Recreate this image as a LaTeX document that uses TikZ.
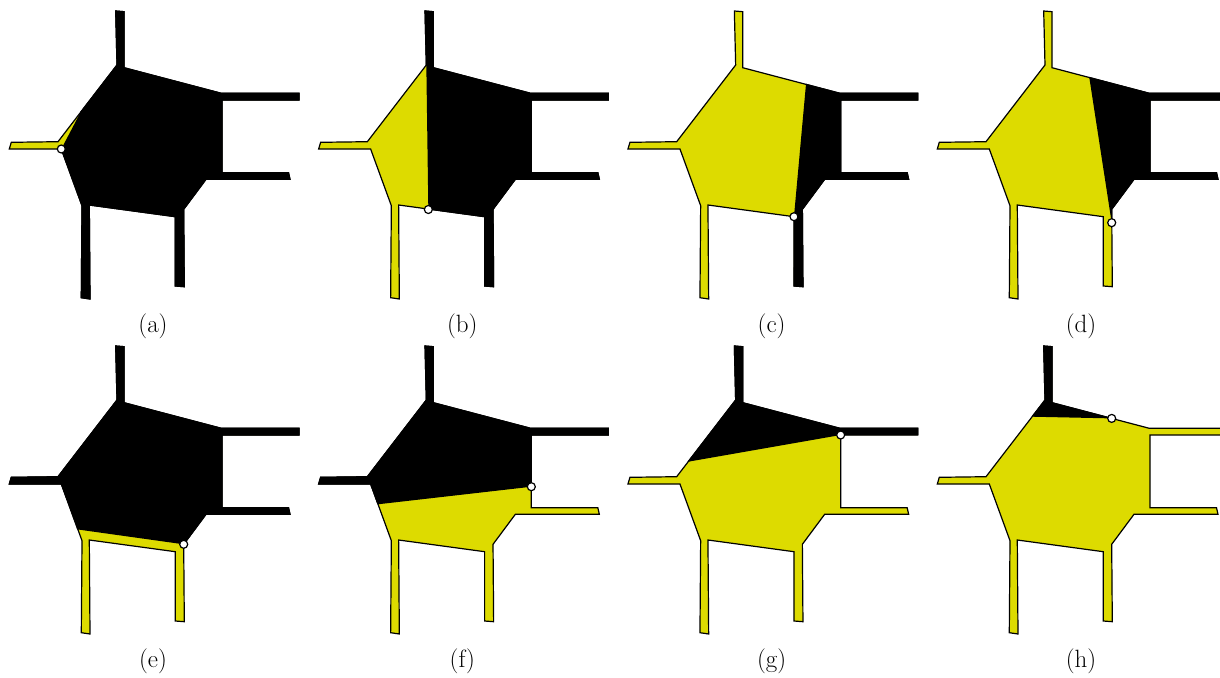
\documentclass[tikz,border=0pt]{standalone}
\usetikzlibrary{calc}
\definecolor{shapeyellow}{RGB}{221,219,0}
\tikzset{
  region/.style={fill=shapeyellow, draw=black, line width=1.2pt, line join=miter},
  cutside/.style={fill=black, draw=black, line width=1.2pt, line join=miter},
  cutpoint/.style={circle, draw=black, fill=white, line width=1.2pt, minimum size=8pt, inner sep=0pt},
  caption/.style={font=\fontsize{25}{30}\selectfont, anchor=base, inner sep=0pt}
}
\newcommand{\hubshape}{(115.7,11) -- (124,11.7) -- (124,67.7) -- (221.3,93.3) -- (299,93.3) -- (299,100) -- (222,100) -- (222,172.7) -- (288.5,172.7) -- (290,179.3) -- (206,179.3) -- (183.7,209.3) -- (184.3,286.7) -- (175.3,286) -- (175.3,216.7) -- (89.3,205) -- (90,299) -- (81.3,297.7) -- (82,205.7) -- (61.3,149) -- (9.3,149) -- (11.3,142.3) -- (58,141.7) -- (117,65) -- cycle}
% #1 label, #2 column, #3 row, #4 clip polygon of the black part, #5 cut point
\newcommand{\hubpanel}[5]{%
  \begin{scope}[shift={(309.33*#2,335*#3)}]
    \path[region] \hubshape;
    \begin{scope}
      \clip #4;
      \path[cutside] \hubshape;
    \end{scope}
    \node[cutpoint] (cut#1) at #5 {};
    \node[caption] (label#1) at (153,332) {(#1)};
  \end{scope}}
\begin{document}
\begin{tikzpicture}[x=1pt, y=-1pt]
  \useasboundingbox (0,0) rectangle (1220,677);
  \clip (0,0) rectangle (1220,677);
  \hubpanel{a}{0}{0}{(61.3,149) -- (80,113.3) -- (80,-50) -- (400,-50) -- (400,400) -- (61.3,400) -- cycle}{(61.3,149)}
  \hubpanel{b}{1}{0}{(119,209.5) -- (117,65) -- (100,60) -- (100,-50) -- (400,-50) -- (400,400) -- (119,400) -- cycle}{(119,209.5)}
  \hubpanel{c}{2}{0}{(199.5,-50) -- (187.3,84.4) -- (175.3,216.7) -- (174.5,400) -- (400,400) -- (400,-50) -- cycle}{(175.3,216.7)}
  \hubpanel{d}{3}{0}{(141.6,-50) -- (161.3,77.5) -- (183.7,222.7) -- (400,222.7) -- (400,-50) -- cycle}{(183.7,222.7)}
  \hubpanel{e}{0}{1}{(-50,176.6) -- (77.3,194.4) -- (183.7,209.3) -- (400,239.6) -- (400,-50) -- (-50,-50) -- cycle}{(183.7,209.3)}
  \hubpanel{f}{1}{1}{(-50,182.9) -- (68.5,169.3) -- (222.3,151.7) -- (400,131.4) -- (400,-50) -- (-50,-50) -- cycle}{(222,151.7)}
  \hubpanel{g}{2}{1}{(69.5,126.7) -- (222,100) -- (400,100) -- (400,-50) -- (0,-50) -- (0,126.7) -- cycle}{(222,100)}
  \hubpanel{h}{3}{1}{(-50,78.4) -- (104.2,81.7) -- (183.7,83.4) -- (400,88) -- (400,-50) -- (-50,-50) -- cycle}{(183.7,83.4)}
\end{tikzpicture}
\end{document}
